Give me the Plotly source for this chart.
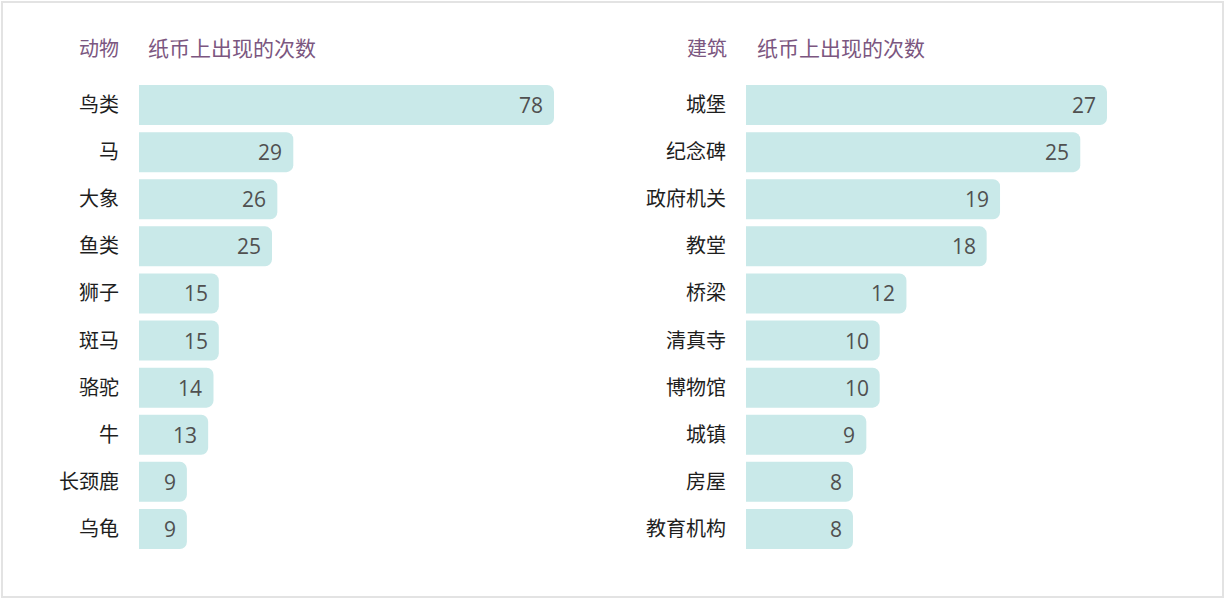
import plotly.graph_objects as go

# ---- data ----
animal_labels = ["鸟类", "马", "大象", "鱼类", "狮子", "斑马", "骆驼", "牛", "长颈鹿", "乌龟"]
animal_counts = [78, 29, 26, 25, 15, 15, 14, 13, 9, 9]
building_labels = ["城堡", "纪念碑", "政府机关", "教堂", "桥梁", "清真寺", "博物馆", "城镇", "房屋", "教育机构"]
building_counts = [27, 25, 19, 18, 12, 10, 10, 9, 8, 8]
left_title = "动物"
right_title = "建筑"
value_title = "纸币上出现的次数"

W, H = 1226, 600
FONT = "Noto Sans CJK SC, Noto Sans, sans-serif"
NUMFONT = "Open Sans, Noto Sans, sans-serif"
BAR = "#c9e9e9"
PURPLE = "#7b5680"
LABEL = "#1e1e1e"
VALUE = "#505050"

fig = go.Figure()

fig.add_trace(go.Bar(
    x=animal_counts, y=animal_labels, orientation="h",
    marker=dict(color=BAR, line=dict(width=0)),
    width=0.85, xaxis="x", yaxis="y", hoverinfo="skip",
))
fig.add_trace(go.Bar(
    x=building_counts, y=building_labels, orientation="h",
    marker=dict(color=BAR, line=dict(width=0)),
    width=0.85, xaxis="x2", yaxis="y2", hoverinfo="skip",
))

annotations = []
for lab, v in zip(animal_labels, animal_counts):
    annotations.append(dict(x=v, y=lab, xref="x", yref="y", text=str(v),
                            showarrow=False, xanchor="right", xshift=-9,
                            font=dict(family=NUMFONT, size=21, color=VALUE)))
for lab, v in zip(building_labels, building_counts):
    annotations.append(dict(x=v, y=lab, xref="x2", yref="y2", text=str(v),
                            showarrow=False, xanchor="right", xshift=-9,
                            font=dict(family=NUMFONT, size=21, color=VALUE)))

hy = 1 - 47 / H
annotations += [
    dict(x=121 / W, y=hy, xref="paper", yref="paper", text=left_title, showarrow=False,
         xanchor="right", yanchor="middle", font=dict(family=FONT, size=20, color=PURPLE)),
    dict(x=146 / W, y=hy, xref="paper", yref="paper", text=value_title, showarrow=False,
         xanchor="left", yanchor="middle", font=dict(family=FONT, size=21, color=PURPLE)),
    dict(x=729 / W, y=hy, xref="paper", yref="paper", text=right_title, showarrow=False,
         xanchor="right", yanchor="middle", font=dict(family=FONT, size=20, color=PURPLE)),
    dict(x=755 / W, y=hy, xref="paper", yref="paper", text=value_title, showarrow=False,
         xanchor="left", yanchor="middle", font=dict(family=FONT, size=21, color=PURPLE)),
]

ydom = [1 - 552.5 / H, 1 - 81.5 / H]
lx0, lx1 = 139 / W, 600 / W
rx0, rx1 = 746 / W, 1180 / W
lscale = (554 - 139) / max(animal_counts)
rscale = (1107 - 746) / max(building_counts)

common_x = dict(showgrid=False, zeroline=False, showticklabels=False, showline=False, fixedrange=True)
common_y = dict(showgrid=False, zeroline=False, showline=False, autorange="reversed", ticks="",
                tickfont=dict(family=FONT, size=20, color=LABEL), ticklabelstandoff=19)

fig.update_layout(
    width=W, height=H,
    margin=dict(l=0, r=0, t=0, b=0),
    paper_bgcolor="white", plot_bgcolor="white",
    showlegend=False,
    barcornerradius=7,
    xaxis=dict(domain=[lx0, lx1], range=[0, (600 - 139) / lscale], **common_x),
    yaxis=dict(domain=ydom, anchor="x", **common_y),
    xaxis2=dict(domain=[rx0, rx1], range=[0, (1180 - 746) / rscale], anchor="y2", **common_x),
    yaxis2=dict(domain=ydom, anchor="x2", **common_y),
    annotations=annotations,
    shapes=[dict(type="rect", xref="paper", yref="paper", x0=2 / W, x1=1 - 3 / W,
                 y0=3 / H, y1=1 - 2 / H, line=dict(color="#e3e3e3", width=2), layer="below")],
)

fig.write_html("out.html", config={"displayModeBar": False},
               post_script="document.body.style.margin='0';document.body.style.padding='0';")
